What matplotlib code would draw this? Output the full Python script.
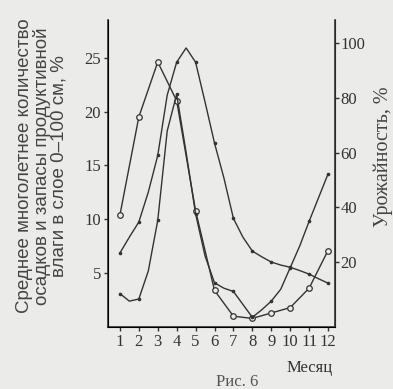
import numpy as np
import matplotlib.pyplot as plt

# months
months = [1, 2, 3, 4, 5, 6, 7, 8, 9, 10, 11, 12]
month_labels = ['1', '2', '3', '4', '5', '6', '7', '8', '9', '10', '11', '12']

# precipitation curve (open circles), left axis
precip = [10.4, 19.5, 24.6, 21.0, 10.8, 3.4, 1.0, 0.8, 1.3, 1.8, 3.6, 7.1]

# half-month grid for the smooth curves
half_months = [1, 1.5, 2, 2.5, 3, 3.5, 4, 4.5, 5, 5.5, 6, 6.5, 7, 7.5, 8,
               8.5, 9, 9.5, 10, 10.5, 11, 11.5, 12]
# productive moisture in 0-100 cm layer, left axis
moisture = [3.1, 2.4, 2.6, 5.2, 9.9, 18.2, 21.6, 16.2, 10.5, 6.6, 4.1, 3.6,
            3.3, 2.1, 0.9, 1.6, 2.4, 3.5, 5.5, 7.5, 9.8, 12.0, 14.2]
# yield, right axis
yield_pct = [23.4, 29.2, 34.7, 45.6, 59.0, 81.0, 93.0, 98.2, 93.0, 78.5, 63.5,
             50.7, 36.0, 29.2, 24.1, 22.0, 20.1, 19.0, 18.2, 17.0, 15.7, 14.0, 12.4]

bg = '#ebebe9'
ink = '#333333'

fig = plt.figure(figsize=(3.93, 3.89), dpi=100, facecolor=bg)
ax = fig.add_axes([108 / 393, 1 - 327 / 389, 227 / 393, 307 / 389])
ax.set_facecolor(bg)
ax2 = ax.twinx()

ax.plot(months, precip, color=ink, lw=1.0, marker='o', ms=4,
        mfc=bg, mec=ink, mew=0.9)
ax.plot(half_months, moisture, color=ink, lw=1.0, marker='o', ms=1.6,
        markevery=2)
ax2.plot(half_months, yield_pct, color=ink, lw=1.0, marker='o', ms=1.6,
         markevery=2)

ax.set_xlim(0.37, 12.37)
ax.set_ylim(0, 28.5)
ax2.set_ylim(-3.6, 108.4)

ax.spines['top'].set_visible(False)
ax2.spines['top'].set_visible(False)
for sp in ['left', 'bottom']:
    ax.spines[sp].set_color(ink)
    ax.spines[sp].set_linewidth(1.2)
ax2.spines['right'].set_color(ink)
ax2.spines['right'].set_linewidth(1.2)

serif = ['Liberation Serif', 'DejaVu Serif']
ax.set_xticks(months)
ax.set_xticklabels(month_labels, family=serif, fontsize=12)
ax.set_yticks([5, 10, 15, 20, 25])
ax.set_yticklabels(['5', '10', '15', '20', '25'], family=serif, fontsize=12)
ax2.set_yticks([20, 40, 60, 80, 100])
ax2.set_yticklabels(['20', '40', '60', '80', '100'], family=serif, fontsize=12)
ax.tick_params(colors=ink, length=3, width=1, pad=2)
ax2.tick_params(colors=ink, length=3, width=1, pad=1)

sans = ['Liberation Sans', 'DejaVu Sans']
fig.text(42 / 393, 1 - 166 / 389,
         'Среднее многолетнее количество\nосадков и запасы продуктивной\nвлаги в слое 0–100 см, %',
         rotation=90, ha='center', va='center', multialignment='center',
         family=sans, fontsize=13.5, color='#444444', linespacing=1.0)
fig.text(383 / 393, 1 - 157 / 389, 'Урожайность, %', rotation=90,
         ha='center', va='center', family=serif, fontsize=14.5, color='#444444')
fig.text(310 / 393, 1 - 368 / 389, 'Месяц', ha='center', va='center',
         family=serif, fontsize=12, color=ink)
fig.text(237 / 393, 1 - 382 / 389, 'Рис. 6', ha='center', va='center',
         family=serif, fontsize=12, color='#555555')

fig.savefig('out.png', dpi=100, facecolor=bg)
